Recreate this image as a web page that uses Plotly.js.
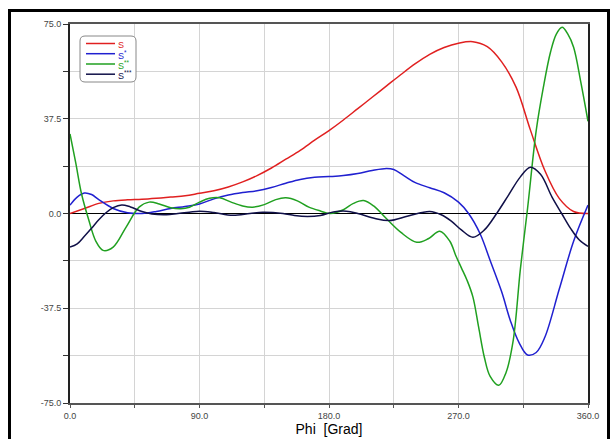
<!DOCTYPE html>
<html>
<head>
<meta charset="utf-8">
<script src="https://cdn.plot.ly/plotly-3.0.1.min.js"></script>
<style>
  html, body { margin: 0; padding: 0; background: #fff; }
  #wrap { position: relative; width: 611px; height: 439px; overflow: hidden; }
  #chart { position: absolute; left: 0; top: 0; width: 611px; height: 439px; }
  #frame { position: absolute; left: 8px; top: 9px; width: 596px; height: 440px;
           border: 3px solid #000; pointer-events: none; }
</style>
</head>
<body>
<div id="wrap">
  <div id="chart"></div>
  <div id="frame"></div>
</div>
<script>
// ---- data ----
const seriesNames = ['S', 'S*', 'S**', 'S***'];
const legendText = ['S', 'S<sup>*</sup>', 'S<sup>**</sup>', 'S<sup>***</sup>'];

const phiS = [0,10,20,30,40,50,60,70,80,90,100,110,120,130,140,150,160,170,180,190,200,210,220,230,240,250,260,270,280,290,300,310,320,330,340,350,360];
const valS = [0,2,4,5,5.4,5.6,6,6.5,7,8,9,10.5,12.5,15,18,21.5,25,29,32.8,37,41.5,46,50.5,55,59.3,63,65.7,67.4,68,66,60,50,33,17,6,0.8,0];

const phiS1 = [0,5,10,15,20,30,40,50,60,70,80,90,100,110,120,130,140,150,160,170,180,190,200,210,220,225,232,240,250,260,270,277,285,292,300,306,312,318,324,330,340,350,360];
const valS1 = [3.3,6.5,8.1,7.5,5.5,2,0.3,0,0.8,2,2.8,3.8,5.8,7.3,8.3,9,10.3,12,13.5,14.3,14.6,15,15.8,17,17.8,17.4,15,12.2,10.2,8.2,4.5,0,-8,-18.6,-31,-42.3,-51,-56,-55,-49,-30,-11,3.3];

const phiS2 = [0,4,8,13,18,23,30,39,48,55,62,70,77,83,90,97,104,112,120,127,135,143,150,158,166,174,181,190,197,204,211,220,230,241,249,257,264,268,272,276,280,284,288,292,298,303,308,313,318,324,329,334,338,342,346,350,355,360];
const valS2 = [31.5,20,7.8,-2.5,-11,-14.6,-13.3,-5.4,2.5,4.5,3.8,2.3,1.9,2.5,4.5,6,6.2,4.5,3,2.5,3.5,5.5,6.2,5,2.5,1,0,1.5,4,5.1,3,-2.1,-7.5,-11.4,-10,-7,-11,-16.5,-21.5,-26.5,-33,-45,-57,-64.5,-68,-63,-50.3,-22,2,32.8,50,64,71,73.7,71,65.8,52,36.5];

const phiS3 = [0,5,10,15,20,25,30,36,42,50,57,67,75,83,90,100,113,125,134,148,156,165,174,183,192,200,212,222,235,250,258,265,272,280,288,296.5,305,313,320,327,335,341.7,348,354,360];
const valS3 = [-13.3,-12,-9,-5.8,-2.5,0.3,2.3,3.4,2.6,0.8,-0.2,-0.5,0,0.5,0.9,0.4,-0.7,0,0.5,0,-0.8,-1.2,-0.8,0.6,0.9,0,-2,-2.8,-1,0.8,-0.5,-3,-6.5,-9.4,-6.5,0,7.5,14.5,18.3,15.5,6.5,0,-6,-10.5,-13];

const xTickVals = [0,90,180,270,360];
const xTickText = ['0.0','90.0','180.0','270.0','360.0'];
const yTickVals = [-75,-37.5,0,37.5,75];
const yTickText = ['-75.0','-37.5','0.0','37.5','75.0'];

// ---- styles ----
const colors = ['#e02020', '#2020d0', '#20a020', '#101048'];
const xs = [phiS, phiS1, phiS2, phiS3];
const ys = [valS, valS1, valS2, valS3];

const traces = xs.map((x, i) => ({
  x: x, y: ys[i], type: 'scatter', mode: 'lines',
  name: seriesNames[i], showlegend: false,
  line: { color: colors[i], width: 1.5, shape: 'spline', smoothing: 1 }
}));

// ---- hand-drawn legend box (paper coordinates) ----
const W = 518, H = 379;                 // plot area size in px
const px = v => v / W, py = v => v / H; // px -> paper units
const bx0 = px(10), bx1 = px(66), by1 = 1 - py(12), by0 = 1 - py(58);
const rx = px(5), ry = py(5);
const boxPath = `M ${bx0 + rx} ${by1} L ${bx1 - rx} ${by1} Q ${bx1} ${by1} ${bx1} ${by1 - ry} ` +
  `L ${bx1} ${by0 + ry} Q ${bx1} ${by0} ${bx1 - rx} ${by0} L ${bx0 + rx} ${by0} ` +
  `Q ${bx0} ${by0} ${bx0} ${by0 + ry} L ${bx0} ${by1 - ry} Q ${bx0} ${by1} ${bx0 + rx} ${by1} Z`;
const shapes = [{
  type: 'path', xref: 'paper', yref: 'paper', path: boxPath,
  line: { color: '#888', width: 1 }, fillcolor: '#fff', layer: 'above'
}];
const annotations = [];
const rowY = [19.5, 29.7, 40, 50.2];
seriesNames.forEach((n, i) => {
  const yy = 1 - py(rowY[i]);
  shapes.push({
    type: 'line', xref: 'paper', yref: 'paper',
    x0: px(16), x1: px(45), y0: yy, y1: yy,
    line: { color: colors[i], width: 1.5 }, layer: 'above'
  });
  annotations.push({
    xref: 'paper', yref: 'paper', x: px(45.5), y: yy - py(1),
    xanchor: 'left', yanchor: 'middle', showarrow: false,
    text: legendText[i], font: { size: 9, color: colors[i] }
  });
});

const layout = {
  width: 611, height: 439,
  margin: { l: 70, r: 23, t: 24, b: 36 },
  paper_bgcolor: '#fff', plot_bgcolor: '#fff',
  font: { family: 'Liberation Sans, Arial, sans-serif', color: '#333' },
  showlegend: false,
  shapes: shapes,
  annotations: annotations,
  xaxis: {
    range: [0, 360], tickmode: 'array', tickvals: xTickVals, ticktext: xTickText,
    showgrid: true, gridcolor: '#d4d4d4', gridwidth: 1, zeroline: false,
    showline: true, linecolor: '#555', linewidth: 2, mirror: true,
    ticks: 'outside', ticklen: 3, tickcolor: '#555', tickwidth: 1,
    minor: { tick0: 0, dtick: 45, ticks: 'outside', ticklen: 3, tickcolor: '#555',
             showgrid: true, gridcolor: '#d4d4d4', gridwidth: 1 },
    tickfont: { size: 9, color: '#444' },
    title: { text: 'Phi  [Grad]', font: { size: 14, color: '#000' }, standoff: 4 }
  },
  yaxis: {
    range: [-75, 75], tickmode: 'array', tickvals: yTickVals, ticktext: yTickText,
    showgrid: true, gridcolor: '#d4d4d4', gridwidth: 1,
    zeroline: true, zerolinecolor: '#000', zerolinewidth: 1.5,
    showline: true, linecolor: '#222', linewidth: 2, mirror: true,
    ticks: 'outside', ticklen: 5, tickcolor: '#333', tickwidth: 1,
    minor: { tick0: 0, dtick: 18.75, ticks: 'outside', ticklen: 5, tickcolor: '#333',
             showgrid: true, gridcolor: '#d4d4d4', gridwidth: 1 },
    tickfont: { size: 9, color: '#444' }
  }
};

Plotly.newPlot('chart', traces, layout, { displayModeBar: false, staticPlot: true });
</script>
</body>
</html>
